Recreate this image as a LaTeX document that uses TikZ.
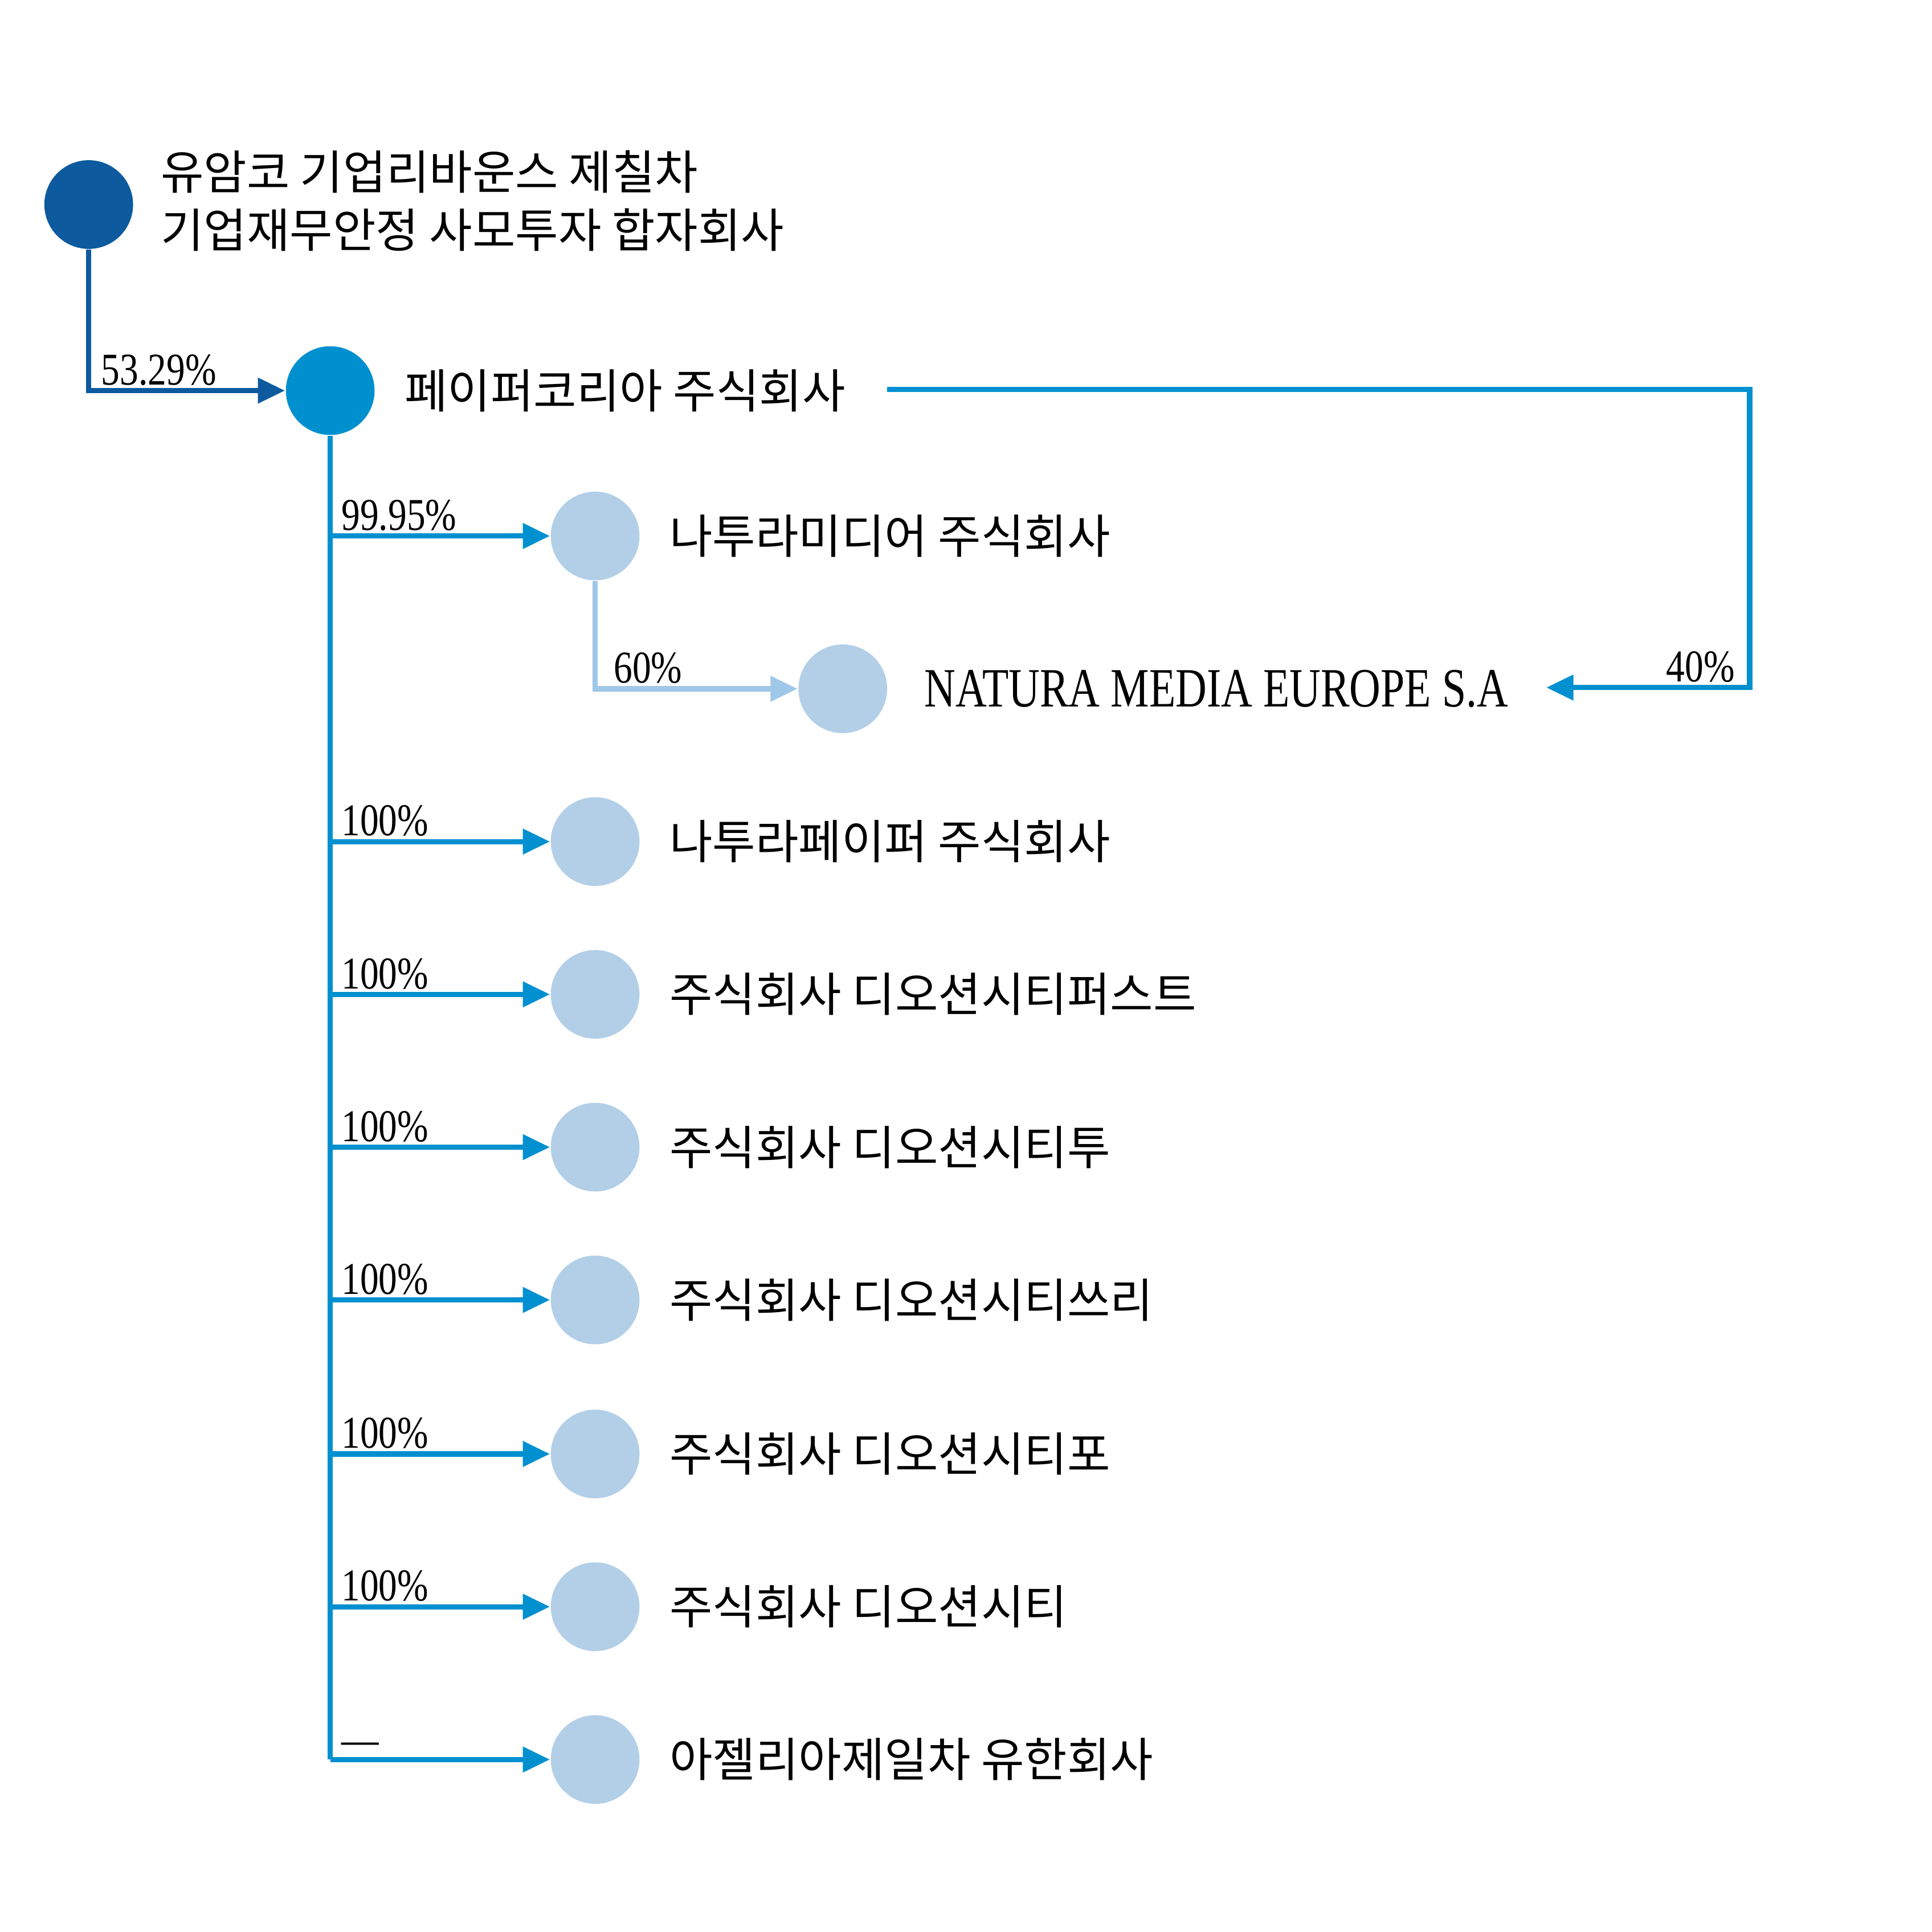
\documentclass[tikz,border=0pt]{standalone}
\usepackage{fontspec}
\setmainfont{Liberation Serif}
\newfontfamily\kr{Noto Sans CJK KR}
\usetikzlibrary{arrows.meta,calc}
\definecolor{cdark}{HTML}{0D5A9E}
\definecolor{cmid}{HTML}{0090D0}
\definecolor{clight}{HTML}{B3CFE8}
\definecolor{cline}{HTML}{9FC7E8}
\newcommand{\narrow}[2]{\scalebox{#1}[1]{#2}}
\begin{document}
\begin{tikzpicture}
  [
    x=0.1mm, y=-0.1mm,
    dot/.style =
      {circle, minimum size=7.2mm, inner sep=0pt},
    orgname/.style =
      {anchor=west, font=\kr\fontsize{10.8}{13.5}\selectfont, align=left},
    pct/.style =
      {anchor=south west, font=\fontsize{10.5}{12}\selectfont, inner sep=1pt},
    link/.style =
      {line width=1.2pt, -{Triangle[length=2.2mm, width=2mm]}}
  ]
\useasboundingbox (0,0) rectangle (1568,1568);

\node[dot, fill=cdark] (top) at (72,166) {};
\node[orgname] (ttop) at (118,163) {유암코 기업리바운스 제칠차\\기업재무안정 사모투자 합자회사};

\node[dot, fill=cmid] (pk) at (268,317) {};
\node[orgname] (tpk) at (316,317) {페이퍼코리아 주식회사};

\draw [link, cdark] (top.south) |- (pk.west);
\node[pct] at (78,317) {\narrow{0.82}{53.29\%}};

% subsidiaries
\foreach \y/\n/\p [count=\i] in {
    435/나투라미디어 주식회사/99.95\%,
    683/나투라페이퍼 주식회사/100\%,
    807/주식회사 디오션시티퍼스트/100\%,
    931/주식회사 디오션시티투/100\%,
    1055/주식회사 디오션시티쓰리/100\%,
    1180/주식회사 디오션시티포/100\%,
    1304/주식회사 디오션시티/100\%,
    1428/아젤리아제일차 유한회사/—} {
  \node[dot, fill=clight] (s\i) at (483,\y) {};
  \node[orgname] (ts\i) at (531,\y) {\n};
  \coordinate (b\i) at (268,\y);
  \draw [link, cmid] (b\i) -- (s\i.west);
  \node[pct] at (273,\y) {\narrow{0.82}{\p}};
}
\draw [line width=1.2pt, cmid] (pk.south) -- (b8);

\node[dot, fill=clight] (nme) at (684,559) {};
\node[orgname, font=\fontsize{12.8}{15}\selectfont] (tnme) at (738,559) {\narrow{0.78}{NATURA MEDIA EUROPE S.A}};

\draw [link, cline] (s1.south) |- (nme.west);
\node[pct] at (494,559) {\narrow{0.82}{60\%}};

\coordinate (c40) at (1420,316);
\coordinate (e40) at (1255,558);
\draw [link, cmid] (720,316) -- (c40) |- (e40);
\node[pct, anchor=south east] at (1412,558) {\narrow{0.82}{40\%}};
\end{tikzpicture}
\end{document}
